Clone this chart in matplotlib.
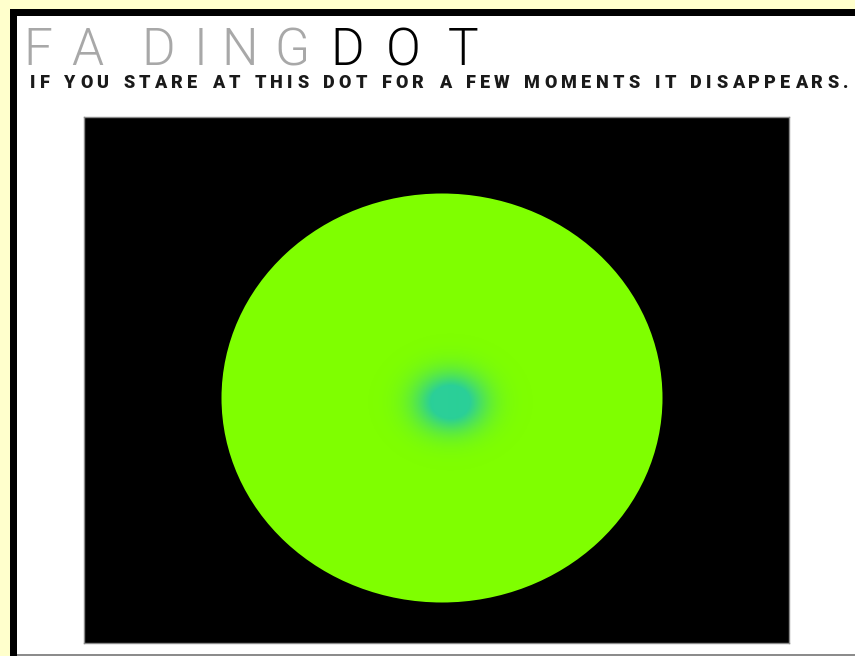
import numpy as np
import matplotlib
matplotlib.use("Agg")
import matplotlib.pyplot as plt
from matplotlib.patches import Rectangle, Ellipse
from matplotlib.colors import to_rgb
from matplotlib.font_manager import FontProperties

W, H = 855, 656

# ---- data ----
title_letters = list("FADINGDOT")
title_colors = ["#a8a8a8"] * 6 + ["#000000"] * 3
title_centers = [37.5, 87, 158, 200, 240, 291.5, 347.5, 403, 463.5]
subtitle = "IF YOU STARE AT THIS DOT FOR A FEW MOMENTS IT DISAPPEARS."

disc_center = (442, 398)
disc_size = (441, 409)
disc_color = "#7fff00"

dot_center = (450, 402)
dot_sigma = (24, 20)
dot_color = "#2bcf98"

fig = plt.figure(figsize=(W / 100, H / 100), dpi=100)
fig.patch.set_facecolor("#ffffcc")


def frect(x0, y0, x1, y1, **kw):
    fig.add_artist(Rectangle((x0 / W, 1 - y1 / H), (x1 - x0) / W, (y1 - y0) / H,
                             transform=fig.transFigure, zorder=-5, **kw))


# frame
frect(10, 9, W + 5, H + 5, facecolor="black", edgecolor="none")
frect(17, 16, W + 5, 654, facecolor="white", edgecolor="none")
frect(17, 653.5, W + 5, H + 5, facecolor="#8c8c8c", edgecolor="none")

# title
for ch, col, cx in zip(title_letters, title_colors, title_centers):
    fig.text(cx / W, 1 - 65 / H, ch, color=col, ha="center", va="baseline",
             fontsize=37, family=["Roboto", "DejaVu Sans"], fontweight=300)

# subtitle with tracking to fit
renderer = fig.canvas.get_renderer()
sub_fs = 13
sub_family = ["Roboto", "DejaVu Sans"]
sub_weight = 900
fp = FontProperties(family=sub_family, weight=sub_weight, size=sub_fs)
widths = []
for ch in subtitle:
    if ch == " ":
        w_, _, _ = renderer.get_text_width_height_descent("n", fp, ismath=False)
        widths.append(w_ * 0.6)
    else:
        w_, _, _ = renderer.get_text_width_height_descent(ch, fp, ismath=False)
        widths.append(w_)
x_start, x_end = 30, 848
extra = (x_end - x_start - sum(widths)) / (len(subtitle) - 1)
x = x_start
for ch, w_ in zip(subtitle, widths):
    if ch != " ":
        fig.text(x / W, 1 - 87.5 / H, ch, color="#1a1a1a", ha="left", va="baseline",
                 fontsize=sub_fs, family=sub_family, fontweight=sub_weight)
    x += w_ + extra

# black panel
ax_x0, ax_x1, ax_y0, ax_y1 = 84, 789, 117, 643
ax = fig.add_axes([ax_x0 / W, 1 - ax_y1 / H, (ax_x1 - ax_x0) / W, (ax_y1 - ax_y0) / H])
ax.set_facecolor("black")
ax.set_xticks([])
ax.set_yticks([])
for s in ax.spines.values():
    s.set_color("#8a8a8a")
    s.set_linewidth(1.0)

disc = Ellipse(disc_center, disc_size[0], disc_size[1], facecolor=disc_color,
               edgecolor="none", zorder=1)
ax.add_patch(disc)

# fading dot overlay
xs = np.arange(ax_x0, ax_x1) + 0.5
ys = np.arange(ax_y0, ax_y1) + 0.5
X, Y = np.meshgrid(xs, ys)
r2 = ((X - dot_center[0]) / dot_sigma[0]) ** 2 + ((Y - dot_center[1]) / dot_sigma[1]) ** 2
alpha = np.clip(1.4 * np.exp(-0.5 * r2), 0, 1)
rgba = np.zeros(X.shape + (4,))
rgba[..., :3] = to_rgb(dot_color)
rgba[..., 3] = alpha
im = ax.imshow(rgba, extent=(ax_x0, ax_x1, ax_y1, ax_y0), origin="upper",
               interpolation="bilinear", zorder=2, aspect="auto")
im.set_clip_path(disc)
ax.set_xlim(ax_x0, ax_x1)
ax.set_ylim(ax_y1, ax_y0)

fig.savefig("out.png", dpi=100, facecolor=fig.get_facecolor())
